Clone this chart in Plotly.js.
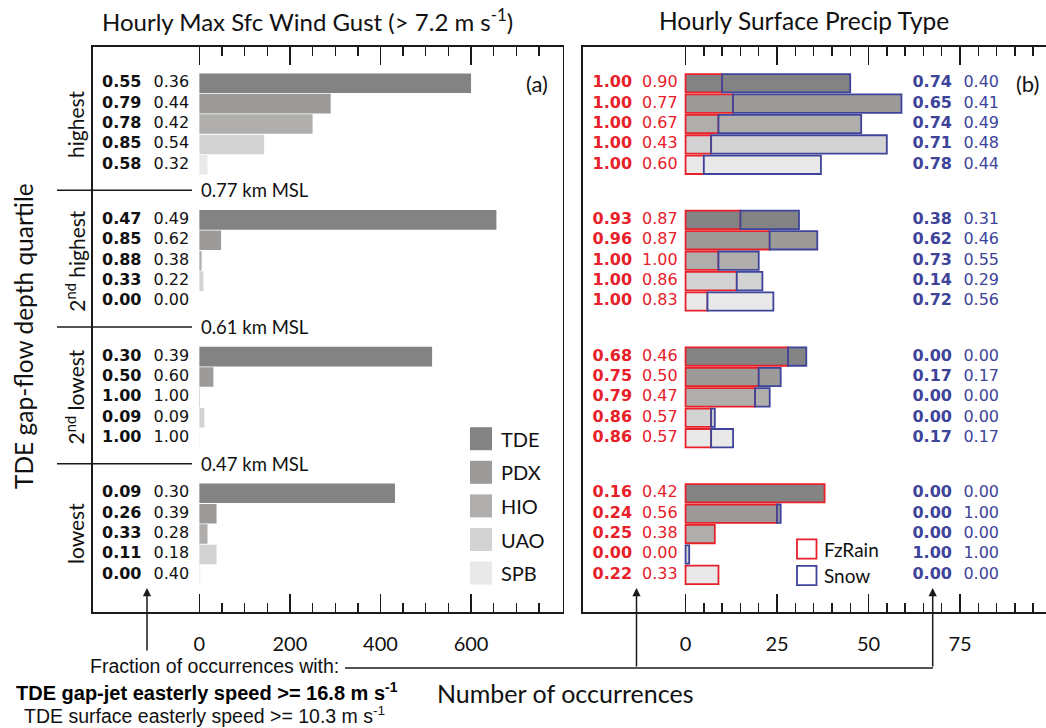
<!DOCTYPE html>
<html>
<head>
<meta charset="utf-8">
<script src="https://cdn.plot.ly/plotly-3.0.1.min.js"></script>
<style>
html,body{margin:0;padding:0;overflow:hidden;background:#fff;}
#chart{width:1060px;height:728px;}
</style>
</head>
<body>
<div id="chart"></div>
<script>
// ---------------- DATA ----------------
const quartiles = ['highest', '2<sup>nd</sup> highest', '2<sup>nd</sup> lowest', 'lowest'];
const stations = ['TDE', 'PDX', 'HIO', 'UAO', 'SPB'];
const sepLabels = ['0.77 km MSL', '0.61 km MSL', '0.47 km MSL'];

// (a) hourly max sfc wind gust counts, per quartile (rows: TDE, PDX, HIO, UAO, SPB)
const gustHighest    = [600, 290, 250, 143, 18];
const gust2ndHighest = [656, 48, 5, 9, 0];
const gust2ndLowest  = [514, 31, 1, 11, 1];
const gustLowest     = [432, 38, 18, 38, 2];

const gustJetFrac = [
  ['0.55','0.79','0.78','0.85','0.58'],
  ['0.47','0.85','0.88','0.33','0.00'],
  ['0.30','0.50','1.00','0.09','1.00'],
  ['0.09','0.26','0.33','0.11','0.00']];
const gustSfcFrac = [
  ['0.36','0.44','0.42','0.54','0.32'],
  ['0.49','0.62','0.38','0.22','0.00'],
  ['0.39','0.60','1.00','0.09','1.00'],
  ['0.30','0.39','0.28','0.18','0.40']];

// (b) hourly surface precip type counts
const fzRainHighest    = [10, 13, 9, 7, 5];
const fzRain2ndHighest = [15, 23, 9, 14, 6];
const fzRain2ndLowest  = [28, 20, 19, 7, 7];
const fzRainLowest     = [38, 25, 8, 0, 9];

const snowHighest    = [35, 46, 39, 48, 32];
const snow2ndHighest = [16, 13, 11, 7, 18];
const snow2ndLowest  = [5, 6, 4, 1, 6];
const snowLowest     = [0, 1, 0, 1, 0];

const fzJetFrac = [
  ['1.00','1.00','1.00','1.00','1.00'],
  ['0.93','0.96','1.00','1.00','1.00'],
  ['0.68','0.75','0.79','0.86','0.86'],
  ['0.16','0.24','0.25','0.00','0.22']];
const fzSfcFrac = [
  ['0.90','0.77','0.67','0.43','0.60'],
  ['0.87','0.87','1.00','0.86','0.83'],
  ['0.46','0.50','0.47','0.57','0.57'],
  ['0.42','0.56','0.38','0.00','0.33']];
const snowJetFrac = [
  ['0.74','0.65','0.74','0.71','0.78'],
  ['0.38','0.62','0.73','0.14','0.72'],
  ['0.00','0.17','0.00','0.00','0.17'],
  ['0.00','0.00','0.00','1.00','0.00']];
const snowSfcFrac = [
  ['0.40','0.41','0.49','0.48','0.44'],
  ['0.31','0.46','0.55','0.29','0.56'],
  ['0.00','0.17','0.00','0.00','0.17'],
  ['0.00','1.00','0.00','1.00','0.00']];

const xTicksA = [0, 200, 400, 600];
const xTicksB = [0, 25, 50, 75, 100];

// ---------------- STYLE / LAYOUT HELPERS ----------------
const stationColors = ['#838383', '#9c9b9a', '#b0aead', '#d3d3d3', '#e9e9e9'];
const RED = '#e8202a', BLUE = '#3d4499', INK = '#1a1a1a';
const W = 1060, H = 728;
const px = v => v / W;
const py = v => 1 - v / H;
const GROUP_STEP = 6.7;
const rowY = (g, s) => g * GROUP_STEP + s;

const gust = [gustHighest, gust2ndHighest, gust2ndLowest, gustLowest];
const fz = [fzRainHighest, fzRain2ndHighest, fzRain2ndLowest, fzRainLowest];
const snow = [snowHighest, snow2ndHighest, snow2ndLowest, snowLowest];

const Y = [], colors = [], gX = [], fzX = [], snX = [], snBase = [];
const tA1 = [], tA2 = [], tR1 = [], tR2 = [], tB1 = [], tB2 = [];
quartiles.forEach((q, g) => {
  stations.forEach((st, s) => {
    Y.push(rowY(g, s));
    colors.push(stationColors[s]);
    gX.push(gust[g][s] > 0 ? gust[g][s] : null);
    fzX.push(fz[g][s] > 0 ? fz[g][s] : null);
    snX.push(snow[g][s] > 0 ? snow[g][s] : null);
    snBase.push(fz[g][s]);
    tA1.push('<b>' + gustJetFrac[g][s] + '</b>');
    tA2.push(gustSfcFrac[g][s]);
    tR1.push('<b>' + fzJetFrac[g][s] + '</b>');
    tR2.push(fzSfcFrac[g][s]);
    tB1.push('<b>' + snowJetFrac[g][s] + '</b>');
    tB2.push(snowSfcFrac[g][s]);
  });
});

const numFont = (c) => ({family: 'DejaVu Sans, Liberation Sans, Arial, sans-serif', size: 16, color: c});
const textTrace = (x, text, c, xa, ya) => ({
  type: 'scatter', mode: 'text', x: Y.map(() => x), y: Y, text: text,
  textposition: 'middle center', textfont: numFont(c), cliponaxis: false,
  xaxis: xa, yaxis: ya, showlegend: false, hoverinfo: 'skip'
});

const traces = [
  {type: 'bar', orientation: 'h', x: gX, y: Y, width: 0.96,
   marker: {color: colors, line: {width: 0}}, xaxis: 'x', yaxis: 'y',
   showlegend: false, hoverinfo: 'skip'},
  {type: 'bar', orientation: 'h', x: fzX, y: Y, width: 0.9, name: 'FzRain',
   marker: {color: colors, line: {color: RED, width: 1.8}}, xaxis: 'x2', yaxis: 'y2',
   showlegend: false, hoverinfo: 'skip'},
  {type: 'bar', orientation: 'h', x: snX, base: snBase, y: Y, width: 0.9, name: 'Snow',
   marker: {color: colors, line: {color: BLUE, width: 1.8}}, xaxis: 'x2', yaxis: 'y2',
   showlegend: false, hoverinfo: 'skip'},
  textTrace(-171.4, tA1, '#111', 'x', 'y'),
  textTrace(-61.8, tA2, '#111', 'x', 'y'),
  textTrace(-20.0, tR1, RED, 'x2', 'y2'),
  textTrace(-7.0, tR2, RED, 'x2', 'y2'),
  textTrace(67.4, tB1, BLUE, 'x2', 'y2'),
  textTrace(80.8, tB2, BLUE, 'x2', 'y2')
];

const LATO = 'Lato, Open Sans, sans-serif';
const ARIAL = 'Liberation Sans, Arial, sans-serif';

function xAxis(domainPx, range, tickvals, minorvals, anchor) {
  return {
    domain: [px(domainPx[0]), px(domainPx[1])], range: range, anchor: anchor,
    showline: true, linecolor: INK, linewidth: 1.6, mirror: 'allticks',
    ticks: 'inside', ticklen: 18, tickwidth: 1.4, tickcolor: INK,
    tickmode: 'array', tickvals: tickvals, ticktext: tickvals.map(String),
    tickfont: {family: LATO, size: 20, color: '#111'}, ticklabelstandoff: 13,
    minor: {tickmode: 'array', tickvals: minorvals, ticks: 'inside', ticklen: 9,
            tickwidth: 1.4, tickcolor: INK, showgrid: false},
    showgrid: false, zeroline: false, fixedrange: true
  };
}
function yAxis(anchor) {
  return {
    domain: [py(612), py(46.7)], range: [25.92, -1.79], anchor: anchor,
    showline: true, linecolor: INK, linewidth: 1.6, mirror: true,
    ticks: '', showticklabels: false, showgrid: false, zeroline: false, fixedrange: true
  };
}
const minorA = [50,100,150,250,300,350,450,500,550,650,700,750];
const minorB = [5,10,15,20,30,35,40,45,55,60,65,70,80,85,90,95];

const annotations = [];
const shapes = [];
const ann = (o) => annotations.push(Object.assign({showarrow: false, xanchor: 'center', yanchor: 'middle'}, o));

// titles
ann({xref: 'paper', yref: 'paper', x: px(307), y: py(20), text: 'Hourly Max Sfc Wind Gust (&gt; 7.2 m s<sup>-1</sup>)',
     font: {family: LATO, size: 24, color: '#111'}});
ann({xref: 'paper', yref: 'paper', x: px(804), y: py(20), text: 'Hourly Surface Precip Type',
     font: {family: LATO, size: 24.5, color: '#111'}});
ann({xref: 'paper', yref: 'paper', x: px(537), y: py(83), text: '(a)', font: {family: LATO, size: 22, color: '#111'}});
ann({xref: 'paper', yref: 'paper', x: px(1027), y: py(83), text: '(b)', font: {family: LATO, size: 22, color: '#111'}});

// y titles
ann({xref: 'paper', yref: 'paper', x: px(23), y: py(336), text: 'TDE gap-flow depth quartile', textangle: -90,
     font: {family: LATO, size: 24.5, color: '#111'}});
quartiles.forEach((q, g) => {
  ann({xref: 'paper', yref: 'y', x: px(75), y: rowY(g, 2), text: q, textangle: -90,
       font: {family: LATO, size: 21, color: '#111'}});
});
// separators
sepLabels.forEach((t, g) => {
  const yy = g * GROUP_STEP + 5.25;
  shapes.push({type: 'line', xref: 'paper', yref: 'y', x0: px(57), x1: px(192), y0: yy, y1: yy,
               line: {color: INK, width: 1.4}});
  ann({xref: 'paper', yref: 'y', x: px(199), y: yy, xanchor: 'left', text: t,
       font: {family: LATO, size: 18.5, color: '#111'}});
});

// legend (a)
stations.forEach((st, s) => {
  const cy = 438.7 + s * 33.6;
  shapes.push({type: 'rect', xref: 'paper', yref: 'paper', x0: px(470), x1: px(492), y0: py(cy - 11.5), y1: py(cy + 11.5),
               fillcolor: stationColors[s], line: {width: 0}});
  ann({xref: 'paper', yref: 'paper', x: px(499), y: py(cy), xanchor: 'left', text: st,
       font: {family: LATO, size: 20, color: '#111'}});
});
// legend (b)
[['FzRain', RED, 549], ['Snow', BLUE, 575.5]].forEach(([t, c, cy]) => {
  shapes.push({type: 'rect', xref: 'paper', yref: 'paper', x0: px(797), x1: px(816.5), y0: py(cy - 9.7), y1: py(cy + 9.7),
               fillcolor: '#fff', line: {color: c, width: 1.8}});
  ann({xref: 'paper', yref: 'paper', x: px(822), y: py(cy), xanchor: 'left', text: t,
       font: {family: LATO, size: 19, color: '#111'}});
});

// bottom annotations
ann({xref: 'paper', yref: 'paper', x: px(341), y: py(666), xanchor: 'right', text: 'Fraction of occurrences with:',
     font: {family: ARIAL, size: 19.5, color: '#111'}});
ann({xref: 'paper', yref: 'paper', x: px(207), y: py(691), text: '<b>TDE gap-jet easterly speed &gt;= 16.8 m s<sup>-1</sup></b>',
     font: {family: ARIAL, size: 20, color: '#000'}});
ann({xref: 'paper', yref: 'paper', x: px(204), y: py(715), text: 'TDE surface easterly speed &gt;= 10.3 m s<sup>-1</sup>',
     font: {family: ARIAL, size: 19.5, color: '#111'}});
ann({xref: 'paper', yref: 'paper', x: px(565), y: py(693), text: 'Number of occurrences',
     font: {family: LATO, size: 25, color: '#111'}});

shapes.push({type: 'line', xref: 'paper', yref: 'paper', x0: px(345), x1: px(933), y0: py(668), y1: py(668),
             line: {color: INK, width: 1.5}});
[[147, 652], [636.5, 668], [932.7, 668]].forEach(([x, y0]) => {
  annotations.push({xref: 'paper', yref: 'paper', x: px(x), y: py(588), ax: 0, ay: y0 - 588, text: '',
    showarrow: true, arrowhead: 2, arrowsize: 1.1, arrowwidth: 1.5, arrowcolor: INK, standoff: 0, startstandoff: 0});
});

const layout = {
  width: W, height: H, margin: {l: 0, r: 0, t: 0, b: 0},
  paper_bgcolor: '#fff', plot_bgcolor: '#fff', barmode: 'overlay', showlegend: false,
  xaxis: xAxis([92.5, 562.5], [-236, 802], xTicksA, minorA, 'y'),
  yaxis: yAxis('x'),
  xaxis2: xAxis([582.7, 1051.5], [-28.1, 100], xTicksB, minorB, 'y2'),
  yaxis2: yAxis('x2'),
  annotations: annotations, shapes: shapes
};

Plotly.newPlot('chart', traces, layout, {staticPlot: true, displayModeBar: false});
</script>
</body>
</html>
